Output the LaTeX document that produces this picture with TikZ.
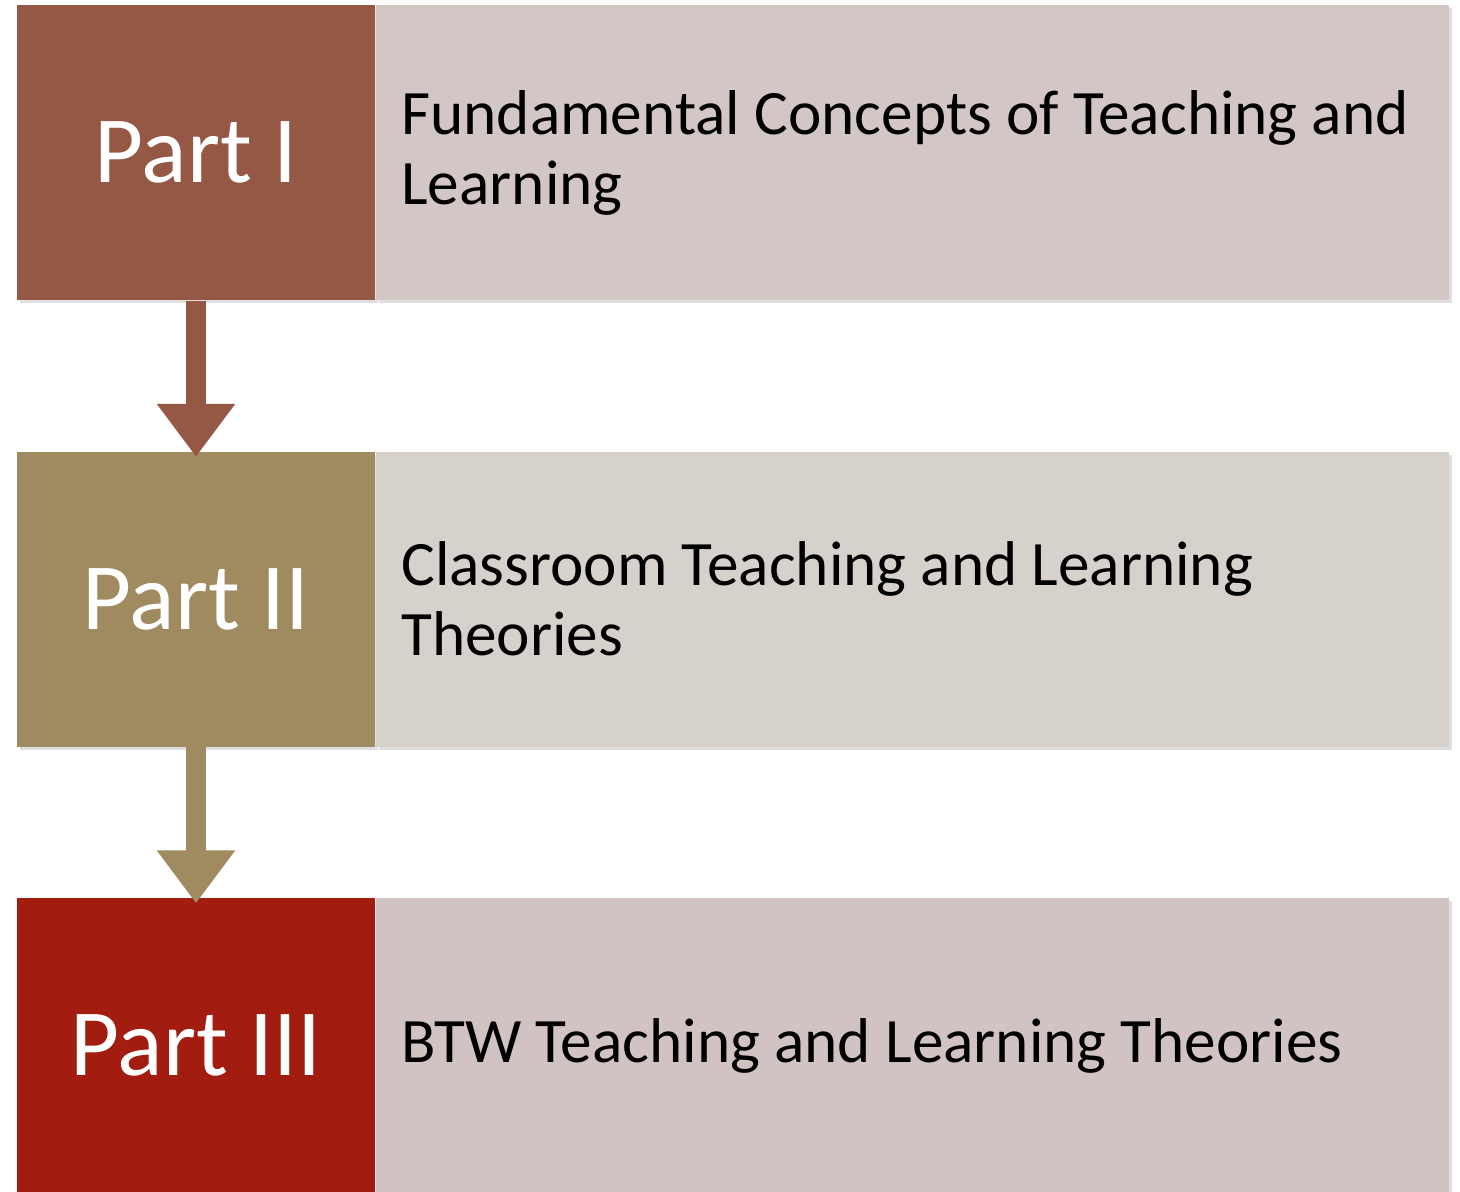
\documentclass[tikz,border=0pt]{standalone}
\usepackage{fontspec}
\setmainfont{Carlito}
\usepackage{tikz}
\usetikzlibrary{arrows.meta, shadows}
\definecolor{partone}{RGB}{149,88,69}
\definecolor{parttwo}{RGB}{160,138,95}
\definecolor{partthree}{RGB}{162,29,15}
\definecolor{descone}{RGB}{210,199,197}
\definecolor{desctwo}{RGB}{214,210,203}
\definecolor{descthree}{RGB}{210,195,195}
\tikzstyle{partbox} = [rectangle, minimum width=3.58cm, minimum height=2.95cm, inner sep=0pt, text=white, font=\fontsize{27}{32}\selectfont, drop shadow={opacity=0.25, shadow xshift=0.03cm, shadow yshift=-0.03cm}]
\tikzstyle{descbox} = [rectangle, minimum width=10.73cm, minimum height=2.95cm, text width=10.23cm, inner xsep=0.25cm, inner ysep=0pt, align=flush left, font=\fontsize{18}{19.9}\selectfont, drop shadow={opacity=0.25, shadow xshift=0.03cm, shadow yshift=-0.03cm}]
\tikzstyle{arrow} = [line width=0.2cm, -{Triangle[width=0.75cm, length=0.53cm]}, shorten >=-0.06cm]

\begin{document}
\begin{tikzpicture}[node distance=4.465cm]
    \useasboundingbox (0,0) rectangle (14.60,-11.91);

    \node (part1) [partbox, fill=partone] at (1.96,-1.525) {Part I};
    \node (desc1) [descbox, fill=descone, anchor=west] at (part1.east) {Fundamental Concepts of Teaching and\\Learning};

    \node (part2) [partbox, fill=parttwo, below of=part1] {Part II};
    \node (desc2) [descbox, fill=desctwo, anchor=west] at (part2.east) {Classroom Teaching and Learning\\Theories};

    \node (part3) [partbox, fill=partthree, below of=part2] {Part III};
    \node (desc3) [descbox, fill=descthree, anchor=west] at (part3.east) {BTW Teaching and Learning Theories};

    \draw [arrow, draw=partone] (part1.south) -- (part2.north);
    \draw [arrow, draw=parttwo] (part2.south) -- (part3.north);
\end{tikzpicture}
\end{document}
